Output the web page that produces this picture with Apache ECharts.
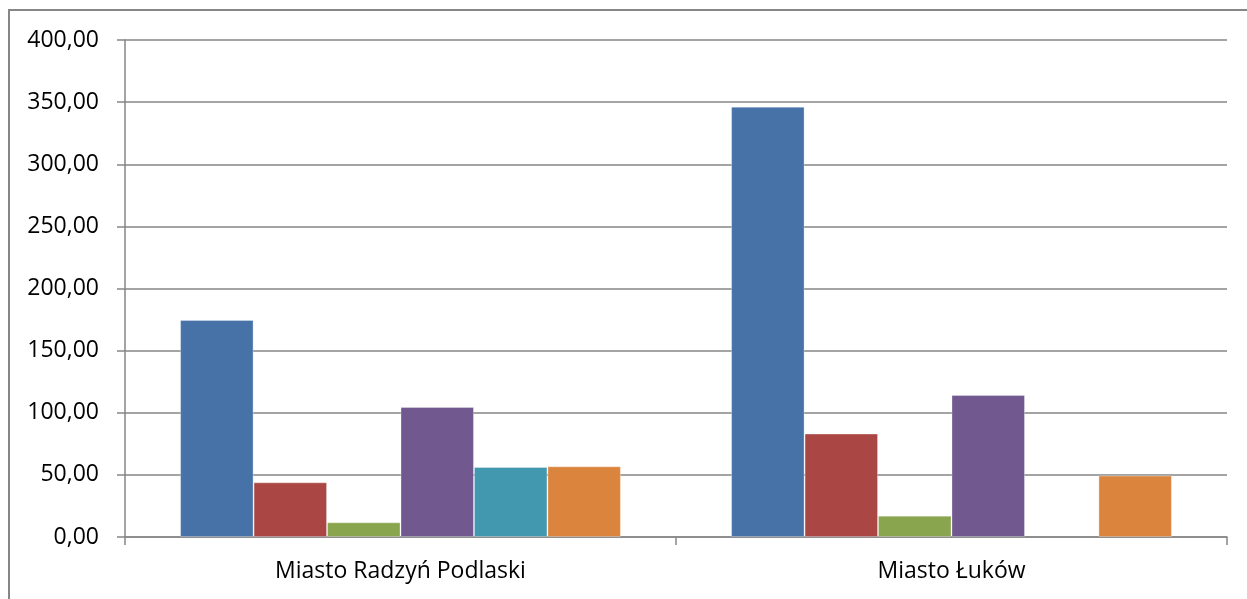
<!DOCTYPE html>
<html>
<head>
<meta charset="utf-8">
<script src="https://cdn.jsdelivr.net/npm/echarts@6/dist/echarts.min.js"></script>
<style>
html,body{margin:0;padding:0;background:#fff;}
#chart{width:1247px;height:599px;}
</style>
</head>
<body>
<div id="chart"></div>
<script>
const categories = ['Miasto Radzyń Podlaski', 'Miasto Łuków'];
const seriesNames = ['Seria 1', 'Seria 2', 'Seria 3', 'Seria 4', 'Seria 5', 'Seria 6'];
const blueValues = [174.7, 346.3];
const redValues = [44.0, 83.2];
const greenValues = [11.8, 17.2];
const purpleValues = [104.6, 114.3];
const tealValues = [56.3, null];
const orangeValues = [56.9, 49.4];
const colors = ['#4672A8', '#AA4744', '#89A54E', '#71588F', '#4198AF', '#DB843D'];
const yMin = 0, yMax = 400, yInterval = 50;

const allValues = [blueValues, redValues, greenValues, purpleValues, tealValues, orangeValues];
const FONT = '"Open Sans", "DejaVu Sans", sans-serif';

const chart = echarts.init(document.getElementById('chart'), null, {renderer: 'canvas'});
chart.setOption({
  animation: false,
  backgroundColor: '#ffffff',
  grid: {left: 125, right: 20, top: 40, bottom: 62, containLabel: false},
  graphic: [{
    type: 'rect',
    shape: {x: 9, y: 10, width: 1250, height: 600},
    style: {fill: 'none', stroke: '#868686', lineWidth: 2},
    silent: true
  }],
  xAxis: {
    type: 'category',
    data: categories,
    axisLine: {lineStyle: {color: '#868686', width: 1.5}},
    axisTick: {show: true, length: 8, alignWithLabel: false, lineStyle: {color: '#868686', width: 1.5}},
    axisLabel: {color: '#000', fontFamily: FONT, fontSize: 23, margin: 23},
    splitLine: {show: false}
  },
  yAxis: {
    type: 'value',
    min: yMin, max: yMax, interval: yInterval,
    axisLine: {show: true, lineStyle: {color: '#868686', width: 1.5}},
    axisTick: {show: true, length: 8, lineStyle: {color: '#868686', width: 1.5}},
    axisLabel: {
      color: '#000', fontFamily: FONT, fontSize: 23, margin: 26,
      formatter: v => v.toFixed(2).replace('.', ',')
    },
    splitLine: {show: true, lineStyle: {color: '#868686', width: 1.5}}
  },
  series: allValues.map((vals, i) => ({
    name: seriesNames[i],
    type: 'bar',
    data: vals,
    barGap: '0%',
    barCategoryGap: '20%',
    itemStyle: {color: colors[i], borderColor: 'rgba(255,255,255,0.3)', borderWidth: 1}
  }))
});
</script>
</body>
</html>
